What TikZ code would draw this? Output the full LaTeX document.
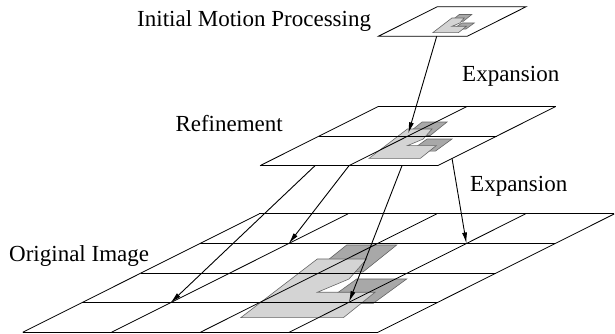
\documentclass[tikz,border=0pt]{standalone}
\usepackage{fontspec}
\setmainfont{Liberation Serif}
\usetikzlibrary{arrows.meta}
\begin{document}
\begin{tikzpicture}[x=1pt,y=1pt,
  gridline/.style={line width=0.8pt,black},
  lightshape/.style={fill=light,draw=black!60,line width=0.6pt},
  darkshape/.style={fill=dark,draw=black!60,line width=0.6pt},
  arr/.style={line width=0.9pt,-{Latex[length=11pt,width=5pt]}},
  lbl/.style={inner sep=0pt,font=\fontsize{23}{27}\selectfont}]
\definecolor{light}{gray}{0.83}
\definecolor{dark}{gray}{0.66}
\useasboundingbox (0,0) rectangle (615,334);
% ---- shape definitions (relative to a plane's origin, bottom-plane scale)
\newcommand{\myshapes}{%
  \draw[darkshape] (324,87.3) -- (374,87.3) -- (340.3,60.3) -- (290.3,60.3) -- cycle;
  \draw[darkshape] (334,53.3) -- (384,53.3) -- (350.6,29) -- (300.3,29) -- cycle;
  \draw[lightshape] (218,14.6) -- (320.6,14.6) -- (352.3,40) -- (294.6,40) -- (326.3,53.3)
     -- (344,73.3) -- (294.6,73.3) -- cycle;
}
% ---- bottom plane 4x4
\begin{scope}[shift={(22.7,1.7)}]
  \myshapes
  \begin{scope}[x={(88.8pt,0pt)},y={(59.1pt,29.6pt)}]
    \foreach \i in {0,...,4} {\draw[gridline] (\i,0) -- (\i,4); \draw[gridline] (0,\i) -- (4,\i);}
  \end{scope}
\end{scope}
% ---- middle plane 2x2
\begin{scope}[shift={(260,168.3)}]
  \begin{scope}[x={(88.8pt,0pt)},y={(59.1pt,29.6pt)}]
    \fill[white] (0,0) -- (2,0) -- (2,2) -- (0,2) -- cycle;
  \end{scope}
  \begin{scope}[scale=0.5]\myshapes\end{scope}
  \begin{scope}[x={(88.8pt,0pt)},y={(59.1pt,29.6pt)}]
    \foreach \i in {0,...,2} {\draw[gridline] (\i,0) -- (\i,2); \draw[gridline] (0,\i) -- (2,\i);}
  \end{scope}
\end{scope}
% ---- top plane 1x1
\begin{scope}[shift={(378.3,297.7)}]
  \begin{scope}[x={(88.8pt,0pt)},y={(59.1pt,29.6pt)}]
    \draw[gridline,fill=white] (0,0) -- (1,0) -- (1,1) -- (0,1) -- cycle;
  \end{scope}
  \begin{scope}[scale=0.25]\myshapes\end{scope}
\end{scope}
% ---- labels
\node[lbl,anchor=base west] (tInit) at (137,307.3) {Initial Motion Processing};
\node[lbl,anchor=base east] (tRef) at (283,202) {Refinement};
\node[lbl,anchor=base west] (tOrig) at (9,72) {Original Image};
\node[lbl,anchor=base west] (tExp1) at (462,252) {Expansion};
\node[lbl,anchor=base west] (tExp2) at (470,142) {Expansion};
% ---- arrow end points
\coordinate (s1) at (436.7,297.7);
\coordinate (e1) at (408.3,200.7);
\coordinate (s2) at (452,175.7);
\coordinate (e2) at (466.4,90.5);
\coordinate (sA) at (315,168.3);
\coordinate (eA) at (170.6,31.3);
\coordinate (sB) at (349,168.3);
\coordinate (eB) at (288.8,90.5);
\coordinate (sC) at (402,168.3);
\coordinate (eC) at (349,32);
\draw[arr] (s1) -- (e1);
\draw[arr] (s2) -- (e2);
\draw[arr] (sA) -- (eA);
\draw[arr] (sB) -- (eB);
\draw[arr] (sC) -- (eC);
\end{tikzpicture}
\end{document}
